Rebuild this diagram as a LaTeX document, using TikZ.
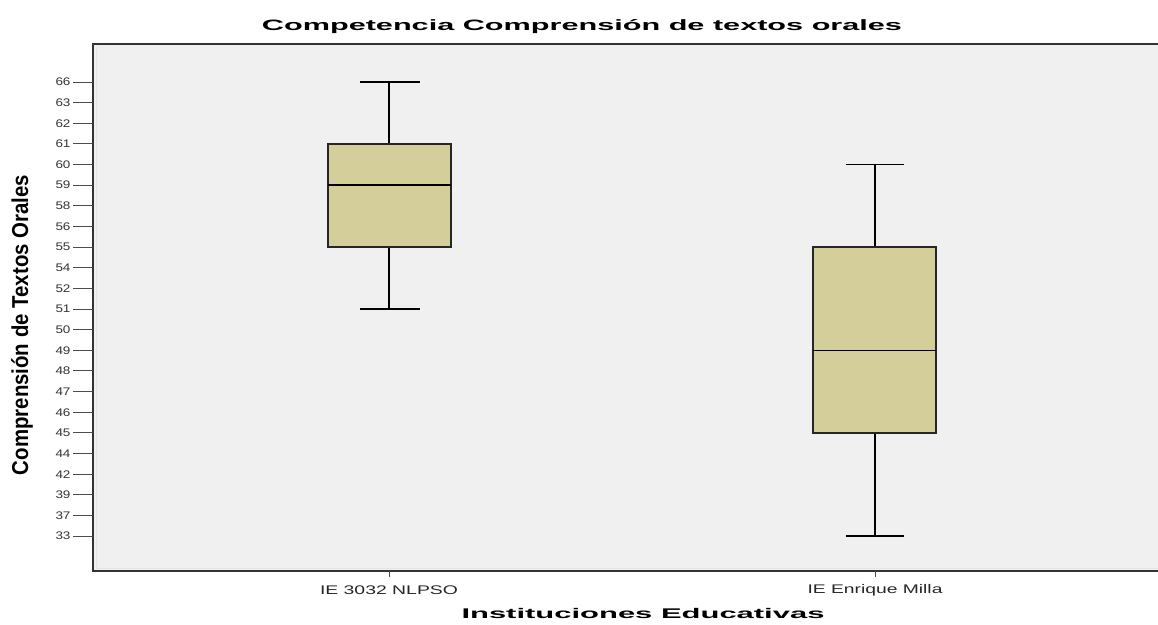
\documentclass[tikz,border=0pt]{standalone}
\usepackage{fontspec}
\setmainfont{Liberation Sans}
\usepackage{graphicx}
\usetikzlibrary{positioning}

\newcommand{\widen}[2]{\resizebox{#1}{\height}{#2}}
\definecolor{plotbg}{RGB}{240,240,240}
\definecolor{boxfill}{RGB}{211,206,154}
\tikzset{
  whisker/.style={line width=1.5pt, black},
  boxpart/.style={draw=black!85, line width=1.8pt, fill=boxfill},
  tickmark/.style={line width=1pt, black!70},
  ticklabel/.style={anchor=east, inner sep=0pt, xshift=-2pt, text=black!80,
    font=\fontsize{11}{11}\selectfont},
  grouplabel/.style={inner sep=0pt, text=black!85, font=\fontsize{12.5}{12.5}\selectfont},
}

\begin{document}
\begin{tikzpicture}[x=1pt,y=-1pt]
    \useasboundingbox (0,0) rectangle (1158,624);
    % plot area
    \fill[plotbg] (93,44) rectangle (1158,571);
    \draw[line width=0.6pt, white!90!black] (96,47) -- (96,568) -- (1158,568);
    \draw[line width=1.8pt, black!80] (1158,44) -- (93,44) -- (93,571) -- (1158,571);
    % value axis
    \foreach \v [count=\i from 0] in {66,63,62,61,60,59,58,56,55,54,52,51,50,49,48,47,46,45,44,42,39,37,33} {
        \coordinate (v\v) at (93,{82+20.64*\i});
        \draw[tickmark] (v\v) -- ++(-20,0) node[ticklabel] (t\v) {\widen{15pt}{\v}};
    }
    % group axis
    \coordinate (g1) at (389,571);
    \coordinate (g2) at (875,571);
    \draw[tickmark] (g1) -- ++(0,6);
    \draw[tickmark] (g2) -- ++(0,6);
    \node[grouplabel] (c1) at (389,590) {\widen{138pt}{IE 3032 NLPSO}};
    \node[grouplabel] (c2) at (875,590) {\widen{135pt}{IE Enrique Milla}};
    % box IE 3032 NLPSO
    \draw[whisker] (g1 |- v66) -- (g1 |- v61);
    \draw[whisker] (g1 |- v55) -- (g1 |- v51);
    \draw[whisker] (360,0 |- v66) -- (420,0 |- v66);
    \draw[whisker] (360,0 |- v51) -- (420,0 |- v51);
    \draw[boxpart] (328,0 |- v61) rectangle (451,0 |- v55);
    \draw[whisker] (328,0 |- v59) -- (451,0 |- v59);
    % box IE Enrique Milla
    \draw[whisker] (g2 |- v60) -- (g2 |- v55);
    \draw[whisker] (g2 |- v45) -- (g2 |- v33);
    \draw[whisker] (846,0 |- v60) -- (904,0 |- v60);
    \draw[whisker] (846,0 |- v33) -- (904,0 |- v33);
    \draw[boxpart] (813,0 |- v55) rectangle (936,0 |- v45);
    \draw[whisker] (813,0 |- v49) -- (936,0 |- v49);
    % titles
    \node (title) at (582,27) {\widen{640pt}{\bfseries\fontsize{15}{15}\selectfont Competencia Comprensión de textos orales}};
    \node (xtitle) at (643,613) {\widen{363pt}{\bfseries\fontsize{14}{14}\selectfont Instituciones Educativas}};
    \node[rotate=90] (ytitle) at (22,325) {\widen{300pt}{\bfseries\fontsize{23}{23}\selectfont Comprensión de Textos Orales}};
\end{tikzpicture}
\end{document}
